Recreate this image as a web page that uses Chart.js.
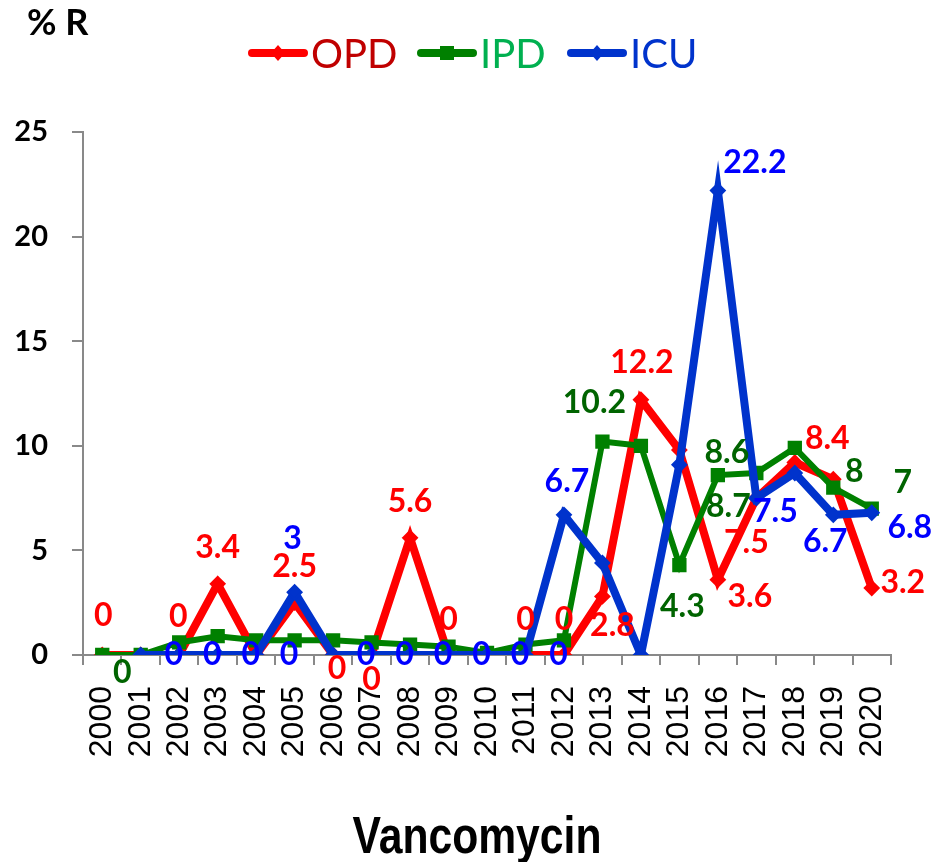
<!DOCTYPE html>
<html>
<head>
<meta charset="utf-8">
<title>Vancomycin</title>
<script src="https://cdn.jsdelivr.net/npm/chart.js@4.4.0/dist/chart.umd.min.js"></script>
<style>
    html, body { margin: 0; padding: 0; background: #ffffff; }
</style>
</head>
<body>
<canvas id="vancoChart" width="935" height="862"></canvas>
<script>
/**
 * Chart data
 **/
let years = ["2000", "2001", "2002", "2003", "2004", "2005", "2006", "2007", "2008", "2009", "2010",
    "2011", "2012", "2013", "2014", "2015", "2016", "2017", "2018", "2019", "2020"];
let opd = [0, 0, 0, 3.4, 0, 2.5, 0, 0, 5.6, 0, 0, 0, 0, 2.8, 12.2, 9.8, 3.6, 7.5, 9.2, 8.4, 3.2];
let ipd = [0, 0, 0.6, 0.9, 0.7, 0.7, 0.7, 0.6, 0.5, 0.4, 0.1, 0.5, 0.7, 10.2, 10, 4.3, 8.6, 8.7, 9.9, 8, 7];
let icu = [null, 0, 0, 0, 0, 3, 0, 0, 0, 0, 0, 0, 6.7, 4.4, 0, 9.1, 22.2, 7.5, 8.7, 6.7, 6.8];
let yTicks = [0, 5, 10, 15, 20, 25];

/**
 * Where each value label sits next to its point (dx, dy in px), null = no label
 **/
let opdLabelPos = [[1, -39], null, [-1, -38], [0, -36], null, [0, -36], [4, 14], [0, 25], [0, -36], [0, -35], null,
    [0, -35], [0, -35], [10, 29], [1, -37], null, [32, 17], [-10, 45], null, [-6, -41], [31, -5]];
let ipdLabelPos = [[20, 18], null, null, null, null, null, null, null, null, null, null,
    null, null, [-8, -39], null, [3, 42], [9, -22], [-28, 34], null, [21, -16], [31, -26]];
let icuLabelPos = [null, [33, 0], [33, 0], [33, 0], [33, 0], [-2, -54], [33, 0], [33, 0], [33, 0], [33, 0], [33, 0],
    [33, 0], [3, -33], null, null, null, [37, -28], [19, 14], null, [-8, 27], [38, 15]];

/**
 * Value labels on the points
 **/
const pointLabels = {
    id: 'pointLabels',
    afterDatasetsDraw(chart) {
        let ctx = chart.ctx;
        ctx.save();
        ctx.font = "bold 32px Lato";
        ctx.textAlign = "center";
        ctx.textBaseline = "middle";
        chart.data.datasets.forEach((ds, i) => {
            let meta = chart.getDatasetMeta(i);
            ds.labelPos.forEach((pos, j) => {
                if (!pos || ds.data[j] === null) return;
                let pt = meta.data[j];
                ctx.fillStyle = ds.labelColor;
                ctx.fillText(String(ds.data[j]), pt.x + pos[0], pt.y + pos[1]);
            });
        });
        ctx.restore();
    }
};

/**
 * Legend, axis caption and bottom title
 **/
const extras = {
    id: 'extras',
    afterDraw(chart) {
        let ctx = chart.ctx;
        ctx.save();

        ctx.fillStyle = "#000000";
        ctx.font = "bold 36px Lato";
        ctx.textAlign = "left";
        ctx.textBaseline = "alphabetic";
        ctx.fillText("% R", 27, 35);

        let items = [
            {x: 248, text: "OPD", line: "#ff0000", textColor: "#c00000", style: "diamond"},
            {x: 417, text: "IPD", line: "#008000", textColor: "#00b050", style: "square"},
            {x: 567, text: "ICU", line: "#0033cc", textColor: "#0033cc", style: "diamond"}
        ];
        let ly = 53;
        items.forEach(it => {
            ctx.strokeStyle = it.line;
            ctx.lineWidth = 8;
            ctx.lineCap = "round";
            ctx.beginPath();
            ctx.moveTo(it.x + 4, ly);
            ctx.lineTo(it.x + 56, ly);
            ctx.stroke();
            ctx.fillStyle = it.line;
            let mx = it.x + 30;
            ctx.beginPath();
            if (it.style === "square") {
                ctx.rect(mx - 7, ly - 7, 14, 14);
            } else {
                ctx.moveTo(mx, ly - 8);
                ctx.lineTo(mx + 7, ly);
                ctx.lineTo(mx, ly + 8);
                ctx.lineTo(mx - 7, ly);
                ctx.closePath();
            }
            ctx.fill();
            ctx.fillStyle = it.textColor;
            ctx.font = "40px Lato";
            ctx.fillText(it.text, it.x + 63, 68);
        });

        ctx.fillStyle = "#000000";
        ctx.font = "bold 52px 'Liberation Sans'";
        ctx.textAlign = "center";
        ctx.translate(477, 853);
        ctx.scale(0.82, 1);
        ctx.fillText("Vancomycin", 0, 0);
        ctx.restore();
    }
};

let axisGrey = "#898989";

new Chart(document.getElementById("vancoChart"), {
    type: 'line',
    data: {
        labels: years,
        datasets: [{
            label: 'OPD',
            data: opd,
            borderColor: '#ff0000',
            backgroundColor: '#ff0000',
            borderWidth: 8,
            pointStyle: 'rectRot',
            pointRadius: 7,
            pointBorderWidth: 2,
            tension: 0,
            order: 2,
            labelColor: '#ff0000',
            labelPos: opdLabelPos
        }, {
            label: 'IPD',
            data: ipd,
            borderColor: '#008000',
            backgroundColor: '#008000',
            borderWidth: 6,
            pointStyle: 'rect',
            pointRadius: 8,
            pointBorderWidth: 3,
            tension: 0,
            order: 1,
            labelColor: '#006400',
            labelPos: ipdLabelPos
        }, {
            label: 'ICU',
            data: icu,
            borderColor: '#0033cc',
            backgroundColor: '#0033cc',
            borderWidth: 8,
            pointStyle: 'rectRot',
            pointRadius: 7,
            pointBorderWidth: 2,
            tension: 0,
            order: 0,
            labelColor: '#0000ff',
            labelPos: icuLabelPos
        }]
    },
    options: {
        responsive: false,
        animation: false,
        devicePixelRatio: 1,
        layout: {
            padding: {top: 132, left: 0, right: 44, bottom: 0}
        },
        plugins: {
            legend: {display: false},
            tooltip: {enabled: false}
        },
        scales: {
            x: {
                offset: true,
                grid: {offset: true, drawOnChartArea: false, tickLength: 10, color: axisGrey, lineWidth: 2},
                border: {color: axisGrey, width: 2},
                ticks: {
                    minRotation: 90,
                    maxRotation: 90,
                    autoSkip: false,
                    padding: 21,
                    color: '#000000',
                    font: {family: 'Liberation Sans', size: 32}
                },
                afterFit(scale) {
                    scale.height = 207;
                }
            },
            y: {
                min: 0,
                max: 25,
                afterBuildTicks(scale) {
                    scale.ticks = yTicks.map(v => ({value: v}));
                },
                grid: {drawOnChartArea: false, tickLength: 11, color: axisGrey, lineWidth: 2},
                border: {color: axisGrey, width: 2},
                ticks: {
                    padding: 24,
                    color: '#000000',
                    font: {family: 'Lato', weight: 'bold', size: 29}
                },
                afterFit(scale) {
                    scale.width = 83;
                }
            }
        }
    },
    plugins: [pointLabels, extras]
});
</script>
</body>
</html>
